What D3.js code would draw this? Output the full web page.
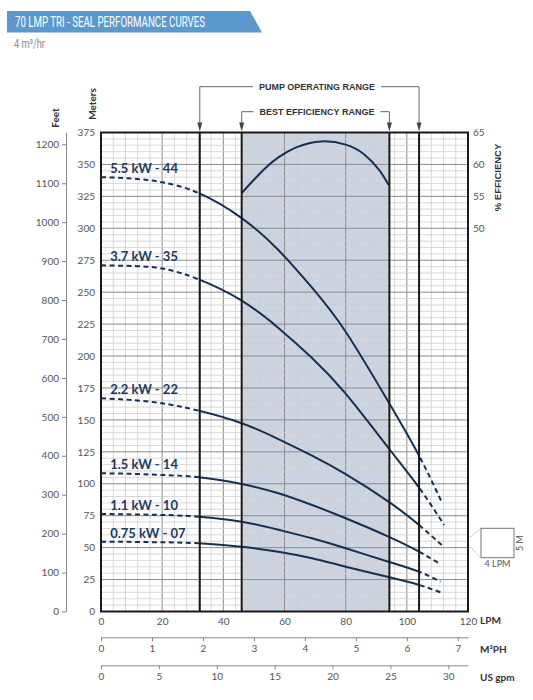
<!DOCTYPE html>
<html>
<head>
<meta charset="utf-8">
<script src="https://cdn.jsdelivr.net/npm/d3@7"></script>
<style>
  body { margin: 0; background: #fff; }
  text { font-family: Lato, "Open Sans", sans-serif; }
</style>
</head>
<body>
<div id="chart"></div>
<script>
// flow points (LPM), heads in meters
const flowLpm = [0, 10, 20, 32, 46, 58, 69, 80, 94, 104];
const head_55 = [340, 339, 336, 327.5, 308, 283, 253.5, 219, 164, 122];
const head_37 = [271, 270.5, 268.5, 260, 243.4, 222, 198.5, 170.5, 128, 97];
const head_22 = [167, 165.6, 163, 157.2, 147.4, 135, 122, 107.5, 86, 67.7];
const head_15 = [108.2, 107.8, 106.9, 105.1, 99.8, 92.6, 83.4, 73, 58.6, 46.8];
const head_11 = [76.4, 76, 75.6, 74.2, 70.3, 64, 57.3, 49.5, 39, 31.2];
const head_075 = [54.7, 54.5, 54.2, 53.4, 50.7, 46.8, 41.7, 35.1, 27, 20.8];
// dashed end of each curve
const tailFlow = [111.6, 112.2, 112, 110.5, 111, 111.4];
const tailHead = [84.7, 67.7, 50.7, 37.7, 23.3, 14.7];
const models = ["5.5 kW - 44", "3.7 kW - 35", "2.2 kW - 22", "1.5 kW - 14", "1.1 kW - 10", "0.75 kW - 07"];

// efficiency curve
const effFlow = [46, 53, 58, 64, 72, 80, 86, 91, 94];
const effValue = [55.5, 59.1, 61.1, 62.7, 63.6, 63.1, 61.6, 59.1, 56.8];

const pumpRange = [32.3, 104];
const bestRange = [46, 94.3];

const lpmTicks = [0, 20, 40, 60, 80, 100, 120];
const m3hTicks = [0, 1, 2, 3, 4, 5, 6, 7];
const gpmTicks = [0, 5, 10, 15, 20, 25, 30];
const feetTicks = d3.range(0, 1201, 100);
const meterTicks = d3.range(0, 376, 25);
const effTicks = [50, 55, 60, 65];

const heads = [head_55, head_37, head_22, head_15, head_11, head_075];

const container_dimensions = (width = 533, height = 700) => {
  return { width, height };
};
const margins = (top = 132.5, bottom = 88.5, left = 101, right = 65) => {
  return { top, bottom, left, right };
};

const c_dim = container_dimensions();
const m = margins();
const x0 = m.left, x1 = c_dim.width - m.right;
const y0 = c_dim.height - m.bottom, y1 = m.top;

const xScale = d3.scaleLinear().domain([0, 120]).range([x0, x1]);
const yScale = d3.scaleLinear().domain([0, 375]).range([y0, y1]);
const feetScale = d3.scaleLinear().domain([0, 375 * 3.28084]).range([y0, y1]);
const effScale = d3.scaleLinear().domain([50, 65]).range([yScale(300), yScale(375)]);
const m3hScale = d3.scaleLinear().domain([0, 120 * 0.06]).range([x0, x1]);
const gpmScale = d3.scaleLinear().domain([0, 120 / 3.78541]).range([x0, x1]);

const navy = "#15314f";

const svg = d3
  .select("#chart")
  .append("svg")
  .attr("width", c_dim.width)
  .attr("height", c_dim.height);

// title banner
svg.append("path")
  .attr("d", "M7,11 L250,11 L262,32.5 L7,32.5 Z")
  .attr("fill", "#5b98cc");
svg.append("text")
  .attr("x", 15).attr("y", 27)
  .attr("fill", "#fff")
  .style("font-family", "Roboto, sans-serif")
  .style("font-size", "15px")
  .attr("textLength", 190)
  .attr("lengthAdjust", "spacingAndGlyphs")
  .text("70 LMP TRI - SEAL PERFORMANCE CURVES");
svg.append("text")
  .attr("x", 14).attr("y", 48)
  .attr("fill", "#8a8a8a")
  .style("font-family", "Roboto, sans-serif")
  .style("font-size", "12px")
  .attr("textLength", 31)
  .attr("lengthAdjust", "spacingAndGlyphs")
  .text("4 m³/hr");

// best efficiency shading
svg.append("rect")
  .attr("x", xScale(bestRange[0]))
  .attr("y", y1)
  .attr("width", xScale(bestRange[1]) - xScale(bestRange[0]))
  .attr("height", y0 - y1)
  .attr("fill", "#cbd4e0");

// grid
const grid = svg.append("g");
grid.selectAll("line.vx")
  .data(d3.range(0, 121, 4))
  .enter()
  .append("line")
  .attr("x1", d => xScale(d)).attr("x2", d => xScale(d))
  .attr("y1", y1).attr("y2", y0)
  .attr("stroke", d => d % 20 === 0 ? "#8c8c8c" : "#cfcfcf")
  .attr("stroke-width", d => d % 20 === 0 ? 1 : 0.8);
grid.selectAll("line.hy")
  .data(d3.range(0, 376, 5))
  .enter()
  .append("line")
  .attr("x1", x0).attr("x2", x1)
  .attr("y1", d => yScale(d)).attr("y2", d => yScale(d))
  .attr("stroke", d => d % 25 === 0 ? "#8c8c8c" : "#cfcfcf")
  .attr("stroke-width", d => d % 25 === 0 ? 1 : 0.8);

// clip paths: solid inside pump range, dashed outside
const defs = svg.append("defs");
defs.append("clipPath").attr("id", "clipIn")
  .append("rect")
  .attr("x", xScale(pumpRange[0])).attr("y", 0)
  .attr("width", xScale(pumpRange[1]) - xScale(pumpRange[0]))
  .attr("height", c_dim.height);
const clipOut = defs.append("clipPath").attr("id", "clipOut");
clipOut.append("rect")
  .attr("x", 0).attr("y", 0)
  .attr("width", xScale(pumpRange[0])).attr("height", c_dim.height);
clipOut.append("rect")
  .attr("x", xScale(pumpRange[1])).attr("y", 0)
  .attr("width", c_dim.width).attr("height", c_dim.height);

const headLine = d3.line()
  .x(d => xScale(d[0]))
  .y(d => yScale(d[1]))
  .curve(d3.curveNatural);

const curves = heads.map((h, i) => {
  const pts = flowLpm.map((f, j) => [f, h[j]]);
  pts.push([tailFlow[i], tailHead[i]]);
  return pts;
});

svg.append("g").attr("clip-path", "url(#clipOut)")
  .selectAll("path")
  .data(curves)
  .enter()
  .append("path")
  .attr("d", headLine)
  .attr("fill", "none")
  .attr("stroke", navy)
  .attr("stroke-width", 2)
  .attr("stroke-dasharray", "5,3.5");

svg.append("g").attr("clip-path", "url(#clipIn)")
  .selectAll("path")
  .data(curves)
  .enter()
  .append("path")
  .attr("d", headLine)
  .attr("fill", "none")
  .attr("stroke", navy)
  .attr("stroke-width", 2);

// efficiency curve
svg.append("path")
  .datum(effFlow.map((f, i) => [f, effValue[i]]))
  .attr("d", d3.line()
    .x(d => xScale(d[0]))
    .y(d => effScale(d[1]))
    .curve(d3.curveNatural))
  .attr("fill", "none")
  .attr("stroke", navy)
  .attr("stroke-width", 2);

// curve labels
svg.selectAll("text.model")
  .data(models)
  .enter()
  .append("text")
  .attr("class", "model")
  .attr("x", xScale(3))
  .attr("y", (d, i) => yScale(heads[i][0]) - 4)
  .attr("fill", "#1d3a5f")
  .style("font-size", "13px")
  .style("font-weight", "bold")
  .text(d => d);

// range lines
svg.selectAll("line.range")
  .data(pumpRange.concat(bestRange))
  .enter()
  .append("line")
  .attr("x1", d => xScale(d)).attr("x2", d => xScale(d))
  .attr("y1", y1).attr("y2", y0)
  .attr("stroke", "#1a1a1a")
  .attr("stroke-width", 2);

// plot border
svg.append("rect")
  .attr("x", x0).attr("y", y1)
  .attr("width", x1 - x0).attr("height", y0 - y1)
  .attr("fill", "none")
  .attr("stroke", "#1a1a1a")
  .attr("stroke-width", 2);

// range brackets above the plot
const bracket = (range, yb, label) => {
  const g = svg.append("g");
  const xa = xScale(range[0]), xb = xScale(range[1]);
  g.append("path")
    .attr("d", `M${xa},${y1 - 8} L${xa},${yb} L${xb},${yb} L${xb},${y1 - 8}`)
    .attr("fill", "none")
    .attr("stroke", "#555")
    .attr("stroke-width", 0.9);
  [xa, xb].forEach(x => {
    g.append("path")
      .attr("d", `M${x - 2.5},${y1 - 10} L${x + 2.5},${y1 - 10} L${x},${y1 - 1} Z`)
      .attr("fill", "#444");
  });
  const t = g.append("text")
    .attr("x", 317).attr("y", yb + 3.5)
    .attr("text-anchor", "middle")
    .attr("fill", "#333")
    .style("font-family", "'Liberation Sans', Arial, sans-serif")
    .style("font-size", "9px")
    .style("font-weight", "bold")
    .text(label);
  const bb = t.node().getBBox();
  g.insert("rect", "text")
    .attr("x", bb.x - 6).attr("y", yb - 2)
    .attr("width", bb.width + 12).attr("height", 4)
    .attr("fill", "#fff");
};
bracket(pumpRange, 86.7, "PUMP OPERATING RANGE");
bracket(bestRange, 111.7, "BEST EFFICIENCY RANGE");

const styleAxis = (g) => {
  g.selectAll("text")
    .attr("fill", "#555")
    .style("font-family", "Lato, sans-serif")
    .style("font-size", "10px");
  g.selectAll("line").attr("stroke", "#888");
  g.select(".domain").attr("stroke", "#888");
};

// feet axis
svg.append("g")
  .attr("transform", "translate(66,0)")
  .call(d3.axisLeft(feetScale).tickValues(feetTicks).tickFormat(d3.format("d"))
    .tickSize(4).tickSizeOuter(0).tickPadding(3))
  .call(styleAxis);

// meters labels
svg.append("g")
  .attr("transform", `translate(${x0},0)`)
  .call(d3.axisLeft(yScale).tickValues(meterTicks).tickSize(0).tickPadding(6))
  .call(styleAxis)
  .call(g => g.select(".domain").remove());

// efficiency labels
svg.append("g")
  .attr("transform", `translate(${x1},0)`)
  .call(d3.axisRight(effScale).tickValues(effTicks).tickSize(0).tickPadding(5))
  .call(styleAxis)
  .call(g => g.select(".domain").remove());

// LPM labels
svg.append("g")
  .attr("transform", `translate(0,${y0})`)
  .call(d3.axisBottom(xScale).tickValues(lpmTicks).tickSize(0).tickPadding(6))
  .call(styleAxis)
  .call(g => g.select(".domain").remove());

// m3/h axis
svg.append("g")
  .attr("transform", "translate(0,637.3)")
  .call(d3.axisBottom(m3hScale).tickValues(m3hTicks).tickSize(4).tickSizeOuter(0).tickPadding(4))
  .call(styleAxis);

// US gpm axis
svg.append("g")
  .attr("transform", "translate(0,665.3)")
  .call(d3.axisBottom(gpmScale).tickValues(gpmTicks).tickSize(4).tickSizeOuter(0).tickPadding(4))
  .call(styleAxis);

// unit labels
const unitText = (x, y, txt, rot) => {
  const t = svg.append("text")
    .attr("fill", "#333")
    .style("font-size", "10px")
    .style("font-weight", "bold")
    .attr("dominant-baseline", "middle")
    .text(txt);
  if (rot) {
    t.attr("transform", `translate(${x},${y}) rotate(-90)`).attr("text-anchor", "middle");
  } else {
    t.attr("x", x).attr("y", y);
  }
  return t;
};
unitText(480, 621, "LPM");
unitText(480, 650, "M³PH");
unitText(480, 678.5, "US gpm");
unitText(56, 118, "Feet", true);
unitText(93, 104, "Meters", true);
unitText(498, 177.5, "% EFFICIENCY", true)
  .style("font-family", "'Liberation Sans', Arial, sans-serif")
  .style("font-size", "9.5px");

// grid scale key
svg.append("line")
  .attr("x1", 470).attr("y1", 537).attr("x2", 481).attr("y2", 528.3)
  .attr("stroke", "#aaa").attr("stroke-dasharray", "1.5,1.5");
svg.append("line")
  .attr("x1", 470).attr("y1", 547).attr("x2", 481).attr("y2", 557.7)
  .attr("stroke", "#aaa").attr("stroke-dasharray", "1.5,1.5");
svg.append("rect")
  .attr("x", 481).attr("y", 528.3)
  .attr("width", 33).attr("height", 29.4)
  .attr("fill", "#fff")
  .attr("stroke", "#777");
svg.append("text")
  .attr("x", 497.5).attr("y", 567)
  .attr("text-anchor", "middle")
  .attr("fill", "#555")
  .style("font-size", "9px")
  .text("4 LPM");
svg.append("text")
  .attr("transform", "translate(520.5,543) rotate(-90)")
  .attr("text-anchor", "middle")
  .attr("dominant-baseline", "middle")
  .attr("fill", "#555")
  .style("font-size", "9px")
  .text("5 M");
</script>
</body>
</html>
